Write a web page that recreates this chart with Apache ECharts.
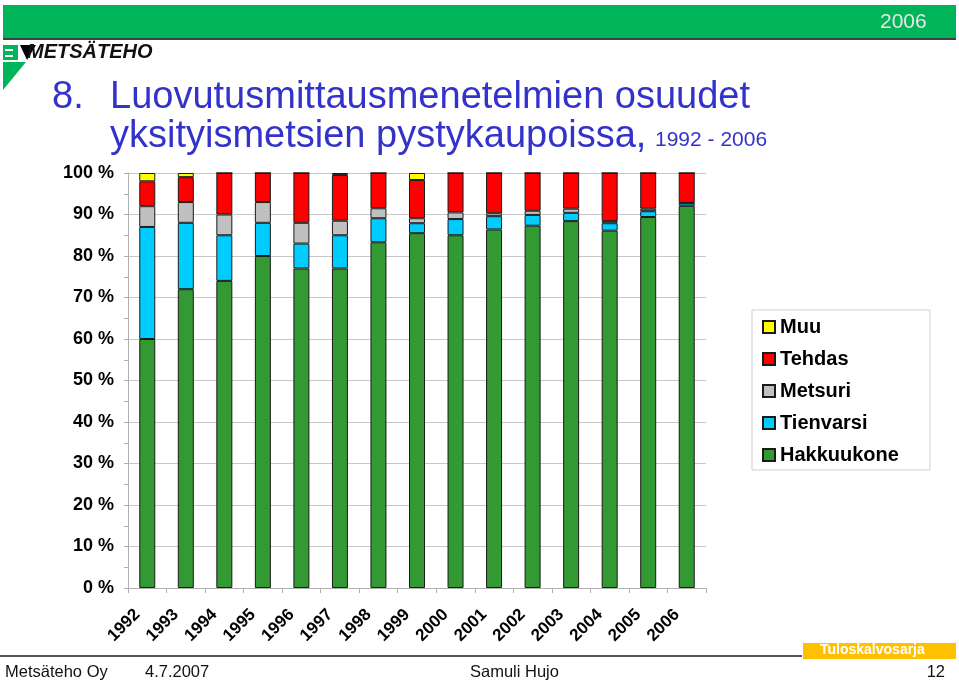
<!DOCTYPE html>
<html>
<head>
<meta charset="utf-8">
<script src="https://cdn.jsdelivr.net/npm/echarts@6/dist/echarts.min.js"></script>
<style>html,body{margin:0;padding:0;background:#fff;}#chart{width:959px;height:681px;}</style>
</head>
<body>
<div id="chart"></div>
<script>
const years = ['1992','1993','1994','1995','1996','1997','1998','1999','2000','2001','2002','2003','2004','2005','2006'];
const hakkuukone = [60, 72, 74, 80, 77, 77, 83.3, 85.5, 85, 86.4, 87.3, 88.4, 86.1, 89.4, 92.1];
const tienvarsi  = [27, 16, 11, 8, 6, 8, 5.8, 2.4, 3.9, 3.2, 2.6, 2.0, 1.8, 1.4, 0.6];
const metsuri    = [5, 5, 5, 5, 5, 3.5, 2.4, 1.2, 1.6, 0.7, 1.0, 1.0, 0.5, 0.6, 0.1];
const tehdas     = [6, 6, 10, 7, 12, 11, 8.5, 9.2, 9.5, 9.7, 9.1, 8.6, 11.6, 8.6, 7.2];
const muu        = [2, 1, 0, 0, 0, 0.5, 0, 1.7, 0, 0, 0, 0, 0, 0, 0];
const yTicks = [0, 10, 20, 30, 40, 50, 60, 70, 80, 90, 100];

const chart = echarts.init(document.getElementById('chart'));
const FONT = "'Liberation Sans', Arial, sans-serif";
const NARROW = "'Liberation Sans Narrow', 'Liberation Sans', Arial, sans-serif";
const colors = {Hakkuukone:'#339933', Tienvarsi:'#00CCFF', Metsuri:'#C0C0C0', Tehdas:'#FF0000', Muu:'#FFFF00'};
function mk(name, data){
  return {name, type:'bar', stack:'t', data, barWidth:16,
    itemStyle:{color:colors[name], borderColor:'#1a1a1a', borderWidth:1},
    emphasis:{disabled:true}};
}
chart.setOption({
  animation:false,
  grid:{left:128, right:253, top:173, bottom:93},
  legend:{
    orient:'vertical', left:752, top:310, width:178,
    data:['Muu','Tehdas','Metsuri','Tienvarsi','Hakkuukone'],
    itemWidth:12, itemHeight:12, itemGap:12,
    padding:[7,31,5,10],
    borderColor:'#d0d0d0', borderWidth:1,
    textStyle:{fontFamily:FONT, fontSize:20, fontWeight:'bold', color:'#000', padding:[0,0,0,0]},
    icon:'rect'
  },
  xAxis:{
    type:'category', data:years,
    axisLine:{lineStyle:{color:'#b0b0b0'}},
    axisTick:{show:true, alignWithLabel:false, length:5, lineStyle:{color:'#b0b0b0'}},
    axisLabel:{rotate:45, fontFamily:FONT, fontSize:17, fontWeight:'bold', color:'#000', margin:14, padding:[0,14,0,0]}
  },
  yAxis:{
    type:'value', min:yTicks[0], max:yTicks[yTicks.length-1], interval:10,
    axisLine:{show:true, lineStyle:{color:'#b0b0b0'}},
    axisTick:{show:true, length:4, lineStyle:{color:'#b0b0b0'}},
    minorTick:{show:true, splitNumber:2, length:4, lineStyle:{color:'#b0b0b0'}},
    splitLine:{lineStyle:{color:'#c8c8c8'}},
    axisLabel:{formatter:'{value} %', fontFamily:FONT, fontSize:18, fontWeight:'bold', color:'#000', margin:14}
  },
  series:[mk('Hakkuukone',hakkuukone), mk('Tienvarsi',tienvarsi), mk('Metsuri',metsuri), mk('Tehdas',tehdas), mk('Muu',muu)],
  graphic:[
    {type:'rect', shape:{x:3,y:5,width:953,height:33}, style:{fill:'#00B45A'}, silent:true},
    {type:'rect', shape:{x:3,y:38,width:953,height:2}, style:{fill:'#404040'}, silent:true},
    {type:'text', left:880, top:12, style:{text:'2006', fill:'#e6e6e6', font:"21px "+NARROW}},
    {type:'polygon', shape:{points:[[3,62],[26,62],[3,90]]}, style:{fill:'#00B45A'}},
    {type:'polygon', shape:{points:[[3,45],[18,45],[18,60],[3,60]]}, style:{fill:'#00B45A'}},
    {type:'rect', shape:{x:5,y:49,width:8,height:2}, style:{fill:'#fff'}},
    {type:'rect', shape:{x:5,y:55,width:8,height:2}, style:{fill:'#fff'}},
    {type:'polygon', shape:{points:[[20,45],[36,45],[27,60]]}, style:{fill:'#000'}},
    {type:'text', left:27, top:42, style:{text:'METSÄTEHO', fill:'#111', font:"italic bold 20px "+NARROW}},
    {type:'text', left:52, top:79, style:{text:'8.', fill:'#3333CC', font:"38px "+FONT}},
    {type:'text', left:110, top:79, style:{text:'Luovutusmittausmenetelmien osuudet', fill:'#3333CC', font:"38px "+FONT}},
    {type:'text', left:110, top:118, style:{text:'yksityismetsien pystykaupoissa,', fill:'#3333CC', font:"38px "+FONT}},
    {type:'text', left:655, top:130, style:{text:'1992 - 2006', fill:'#3333CC', font:"21px "+FONT}},
    {type:'rect', shape:{x:0,y:655,width:802,height:2}, style:{fill:'#555'}},
    {type:'rect', shape:{x:803,y:643,width:153,height:16}, style:{fill:'#FFC000'}},
    {type:'text', left:820, top:643, style:{text:'Tuloskalvosarja', fill:'#fff', font:"bold 14px "+NARROW}},
    {type:'text', left:5, top:664, style:{text:'Metsäteho Oy', fill:'#111', font:"16.5px "+NARROW}},
    {type:'text', left:145, top:664, style:{text:'4.7.2007', fill:'#111', font:"16.5px "+NARROW}},
    {type:'text', left:470, top:664, style:{text:'Samuli Hujo', fill:'#111', font:"16.5px "+NARROW}},
    {type:'text', right:14, top:664, style:{text:'12', fill:'#111', font:"16.5px "+NARROW}}
  ]
});
</script>
</body>
</html>
